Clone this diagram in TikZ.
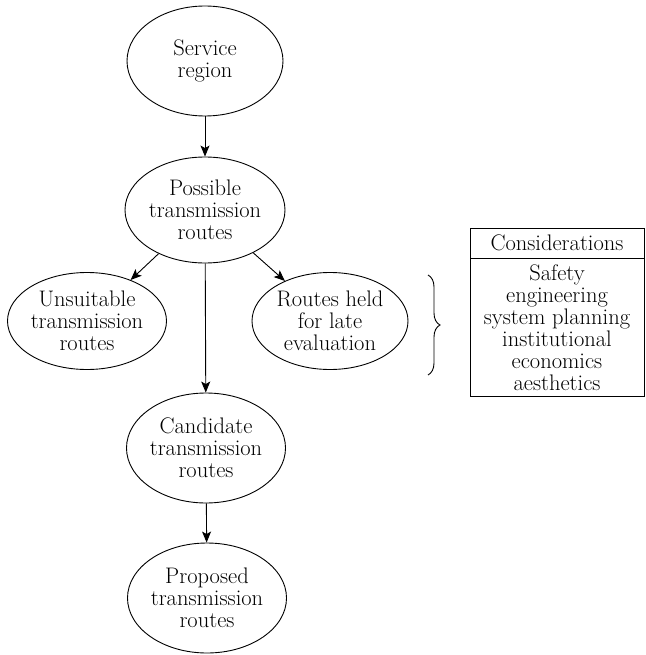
\documentclass[tikz,border=0pt]{standalone}
\usepackage{fontspec}
\setmainfont{Latin Modern Roman}
\usetikzlibrary{shapes.geometric,arrows.meta,decorations.pathreplacing}
\begin{document}
\begin{tikzpicture}[x=1pt,y=-1pt,
  every node/.style={font=\fontsize{22.5}{22}\selectfont, align=center, inner sep=0pt},
  oval/.style={ellipse, draw, line width=0.9pt, minimum width=156pt, minimum height=110pt},
  flat/.style={oval, minimum height=97pt},
  link/.style={line width=0.9pt, -{Stealth[length=11pt,width=9pt,inset=2.5pt]}},
  panel/.style={draw, line width=0.9pt, rectangle, minimum width=174pt}]
\useasboundingbox (0,0) rectangle (645,655);

\node[oval] (svc) at (205,61) {Service\\region};
\node[oval, minimum width=160pt, minimum height=106pt] (poss) at (205,210) {Possible\\transmission\\routes};
\node[flat] (uns) at (87,321) {Unsuitable\\transmission\\routes};
\node[flat] (held) at (330,321) {Routes held\\for late\\evaluation};
\node[oval] (cand) at (206,448) {Candidate\\transmission\\routes};
\node[oval] (prop) at (207,598) {Proposed\\transmission\\routes};

\draw[link] (svc) -- (poss);
\draw[link] (poss) -- (uns);
\draw[link] (poss) -- (held);
\draw[link] (poss) -- (cand);
\draw[link] (cand) -- (prop);

% brace grouping the held routes with the considerations
\coordinate (btop) at (428,275);
\coordinate (bbot) at (428,375);
\draw[line width=0.9pt, decorate, decoration={brace, amplitude=12pt}] (btop) -- (bbot);

\node[panel, minimum height=30pt] (conshead) at (557,243) {Considerations};
\node[panel, minimum height=138pt, anchor=north] (consbody) at (conshead.south)
  {Safety\\engineering\\system planning\\institutional\\economics\\aesthetics};
\end{tikzpicture}
\end{document}
